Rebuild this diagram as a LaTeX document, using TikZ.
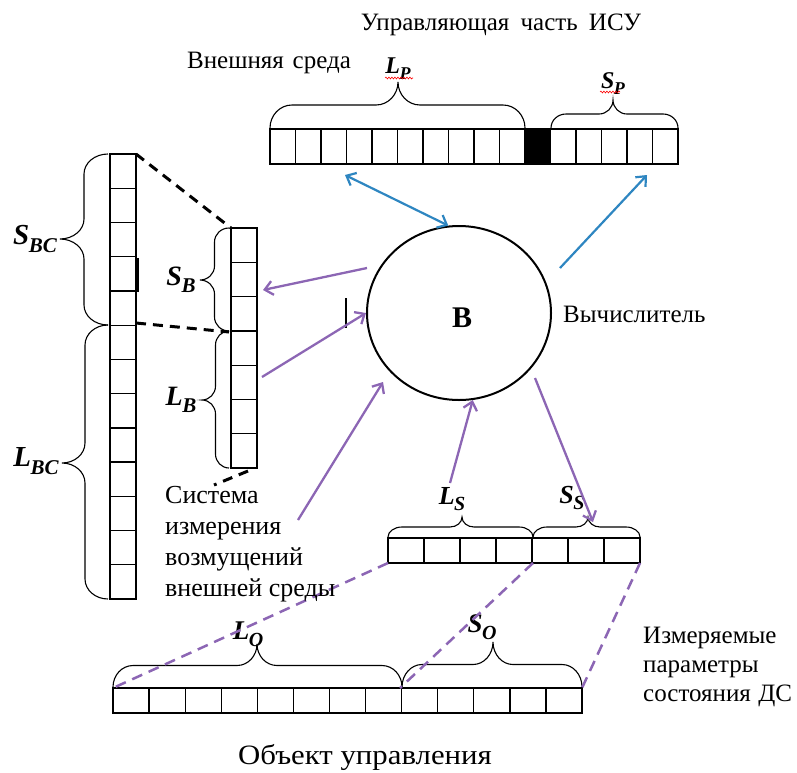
\documentclass[tikz,border=0pt]{standalone}
\usepackage{fontspec}
\setmainfont{Liberation Serif}
\usetikzlibrary{arrows.meta,decorations.pathmorphing,shapes.geometric}
\definecolor{arrblue}{RGB}{46,134,193}
\definecolor{arrpurple}{RGB}{140,102,180}
\newcommand{\varlab}[4]{\fontsize{#3}{#3}\selectfont\bfseries\itshape #1\kern-0.02em\raisebox{-0.25em}{\fontsize{#4}{#4}\selectfont #2}}
\newcommand{\txtsz}[2]{\fontsize{#1}{#2}\selectfont}
% horizontal brace, tip up: x1,x2,xm,y0,h,re,rt
\newcommand{\hbrace}[7]{%
 \draw[bracestyle] (#1,#4) .. controls (#1,{#4-0.276*#5}) and ({#1+0.448*#6},{#4-0.5*#5}) .. ({#1+#6},{#4-0.5*#5})
   -- ({#3-#7},{#4-0.5*#5}) .. controls ({#3-0.448*#7},{#4-0.5*#5}) and (#3,{#4-0.724*#5}) .. (#3,{#4-#5})
   .. controls (#3,{#4-0.724*#5}) and ({#3+0.448*#7},{#4-0.5*#5}) .. ({#3+#7},{#4-0.5*#5})
   -- ({#2-#6},{#4-0.5*#5}) .. controls ({#2-0.448*#6},{#4-0.5*#5}) and (#2,{#4-0.276*#5}) .. (#2,#4);}
% vertical brace, tip left: y1,y2,ym,x0,h,re,rt
\newcommand{\vbrace}[7]{%
 \draw[bracestyle] (#4,#1) .. controls ({#4-0.276*#5},#1) and ({#4-0.5*#5},{#1+0.448*#6}) .. ({#4-0.5*#5},{#1+#6})
   -- ({#4-0.5*#5},{#3-#7}) .. controls ({#4-0.5*#5},{#3-0.448*#7}) and ({#4-0.724*#5},#3) .. ({#4-#5},#3)
   .. controls ({#4-0.724*#5},#3) and ({#4-0.5*#5},{#3+0.448*#7}) .. ({#4-0.5*#5},{#3+#7})
   -- ({#4-0.5*#5},{#2-#6}) .. controls ({#4-0.5*#5},{#2-0.448*#6}) and ({#4-0.276*#5},#2) .. (#4,#2);}
% horizontal row of cells: x0,y0,n,w,h
\newcommand{\hcells}[5]{\draw[cellstyle] (#1,#2) rectangle ({#1+#3*#4},{#2+#5});
  \foreach \i in {1,...,\numexpr#3-1\relax}{\draw[cellstyle] ({#1+\i*#4},#2) -- ({#1+\i*#4},{#2+#5});}}
% vertical column of cells: x0,y0,n,w,h
\newcommand{\vcells}[5]{\draw[cellstyle] (#1,#2) rectangle ({#1+#4},{#2+#3*#5});
  \foreach \i in {1,...,\numexpr#3-1\relax}{\draw[cellstyle] (#1,{#2+\i*#5}) -- ({#1+#4},{#2+\i*#5});}}
\begin{document}
\begin{tikzpicture}[x=1pt,y=-1pt,
  cellstyle/.style={draw=black,line width=1.3pt},
  bracestyle/.style={draw=black,line width=1.1pt},
  bluearrow/.style={draw=arrblue,line width=2.2pt,-{Straight Barb[length=8pt,width=14pt]}},
  bluedouble/.style={draw=arrblue,line width=2.2pt,{Straight Barb[length=8pt,width=14pt]}-{Straight Barb[length=8pt,width=14pt]}},
  purplearrow/.style={draw=arrpurple,line width=2.3pt,-{Straight Barb[length=8pt,width=14pt]}},
  purpledash/.style={draw=arrpurple,line width=2.5pt,dash pattern=on 11pt off 7pt},
  blackdash/.style={draw=black,line width=3pt,dash pattern=on 10pt off 7pt},
  plaintext/.style={inner sep=0pt,font=\txtsz{25}{29}},
  varlabel/.style={inner sep=0pt}]
\useasboundingbox (0,0) rectangle (797,772);

% ---------- top bar (control part) ----------
\hcells{270}{129}{16}{25.5}{35}
\fill[black] (525,129) rectangle (550.5,164);
\hbrace{270}{525}{398}{128}{46}{22}{22}
\hbrace{551}{678}{613}{128}{28}{15}{14}
\node[varlabel] (LP) at (398,69) {\varlab{L}{P}{24}{18}};
\node[varlabel] (SP) at (613,84) {\varlab{S}{P}{24}{18}};
\draw[red,line width=0.6pt,decorate,decoration={snake,amplitude=0.9pt,segment length=3pt}] (385,78) -- (413,78);
\draw[red,line width=0.6pt,decorate,decoration={snake,amplitude=0.9pt,segment length=3pt}] (600,92) -- (620,92);
\node[plaintext] (ctrl) at (501,25) {Управляющая\hspace{0.45em}часть\hspace{0.45em}ИСУ};
\node[plaintext] (env) at (269,63) {Внешняя\hspace{0.35em}среда};

% ---------- left tall column ----------
\vcells{110}{154}{13}{26}{34.23}
\vbrace{154}{325}{239}{108}{48}{20}{20}
\vbrace{325}{599}{463}{108}{46}{20}{20}
\node[varlabel] (SBC) at (35,239) {\varlab{S}{BC}{29}{21}};
\node[varlabel] (LBC) at (36,461) {\varlab{L}{BC}{29}{21}};
\draw[line width=1.5pt] (138,258) -- (138,292);

% ---------- small column ----------
\vcells{231}{228}{7}{26}{34.3}
\vbrace{228}{331}{280}{229}{29}{14}{14}
\vbrace{331}{468}{400}{229}{27}{14}{14}
\node[varlabel] (SB) at (181,280) {\varlab{S}{B}{28}{21}};
\node[varlabel] (LB) at (181,400) {\varlab{L}{B}{28}{21}};
\coordinate (tall-tr) at (136,154);
\coordinate (tall-mid) at (136,323);
\coordinate (small-tl) at (231,228);
\coordinate (small-mid) at (229,332);
\draw[blackdash] (tall-tr) -- (small-tl);
\draw[blackdash] (tall-mid) -- (small-mid);
\coordinate (stub-a) at (248,471);
\coordinate (stub-b) at (214,485);
\draw[blackdash] (stub-a) -- (stub-b);

% ---------- computer ----------
\node[ellipse,draw=black,line width=2pt,minimum width=184pt,minimum height=174pt,inner sep=0pt] (calc) at (459,313) {};
\node[inner sep=0pt,font=\txtsz{30}{30}\bfseries] (calcB) at (462,318) {В};
\node[plaintext,anchor=west] (calcname) at (563,314) {Вычислитель};
\draw[line width=2pt] (346,298) -- (346,328);

% ---------- S bar ----------
\hcells{388}{538}{7}{36}{25}
\hbrace{388}{533}{462}{537}{20}{14}{12}
\hbrace{533}{640}{588}{537}{20}{14}{12}
\node[varlabel] (LS) at (452,499) {\varlab{L}{S}{26}{20}};
\node[varlabel] (SS) at (572,498) {\varlab{S}{S}{26}{20}};
\coordinate (sbar-bl) at (388,563);
\coordinate (sbar-bm) at (533,563);
\coordinate (sbar-br) at (640,563);

% ---------- O bar ----------
\hcells{113}{688}{13}{36.08}{25}
\hbrace{113}{402}{257}{687}{43}{20}{20}
\hbrace{402}{582}{493}{687}{45}{20}{20}
\node[varlabel] (LO) at (248,634) {\varlab{L}{O}{27}{20}};
\node[varlabel] (SO) at (482,627) {\varlab{S}{O}{27}{20}};
\coordinate (obar-tl) at (113,688);
\coordinate (obar-tm) at (400,688);
\coordinate (obar-tr) at (582,688);
\draw[purpledash] (sbar-bl) -- (obar-tl);
\draw[purpledash] (sbar-bm) -- (obar-tm);
\draw[purpledash] (sbar-br) -- (obar-tr);

% ---------- texts ----------
\node[plaintext,anchor=west,align=left,font=\txtsz{26}{31}] (meas) at (165,544) {Система\\измерения\\возмущений\\внешней среды};
\node[plaintext,anchor=west,align=left,font=\txtsz{25}{29}] (params) at (643,667) {Измеряемые\\параметры\\состояния\hspace{0.3em}ДС};
\node[plaintext,font=\txtsz{28}{30}] (obj) at (365,757) {\scalebox{1.1}[1]{Объект управления}};

% ---------- arrows ----------
\coordinate (b1) at (345,175);
\draw[bluedouble] (b1) -- (calc.97);
\coordinate (b2s) at (560,268);
\coordinate (b2e) at (647,175);
\draw[bluearrow] (b2s) -- (b2e);
\coordinate (p1s) at (367,268);
\coordinate (p1e) at (263,290);
\draw[purplearrow] (p1s) -- (p1e);
\coordinate (p2s) at (262,377);
\draw[purplearrow] (p2s) -- (calc.west);
\coordinate (p3s) at (298,520);
\coordinate (p3e) at (383,382);
\draw[purplearrow] (p3s) -- (p3e);
\coordinate (p4s) at (450,483);
\draw[purplearrow] (p4s) -- (calc.-81);
\coordinate (p5s) at (535,378);
\coordinate (p5e) at (593,522);
\draw[purplearrow] (p5s) -- (p5e);
\end{tikzpicture}
\end{document}
